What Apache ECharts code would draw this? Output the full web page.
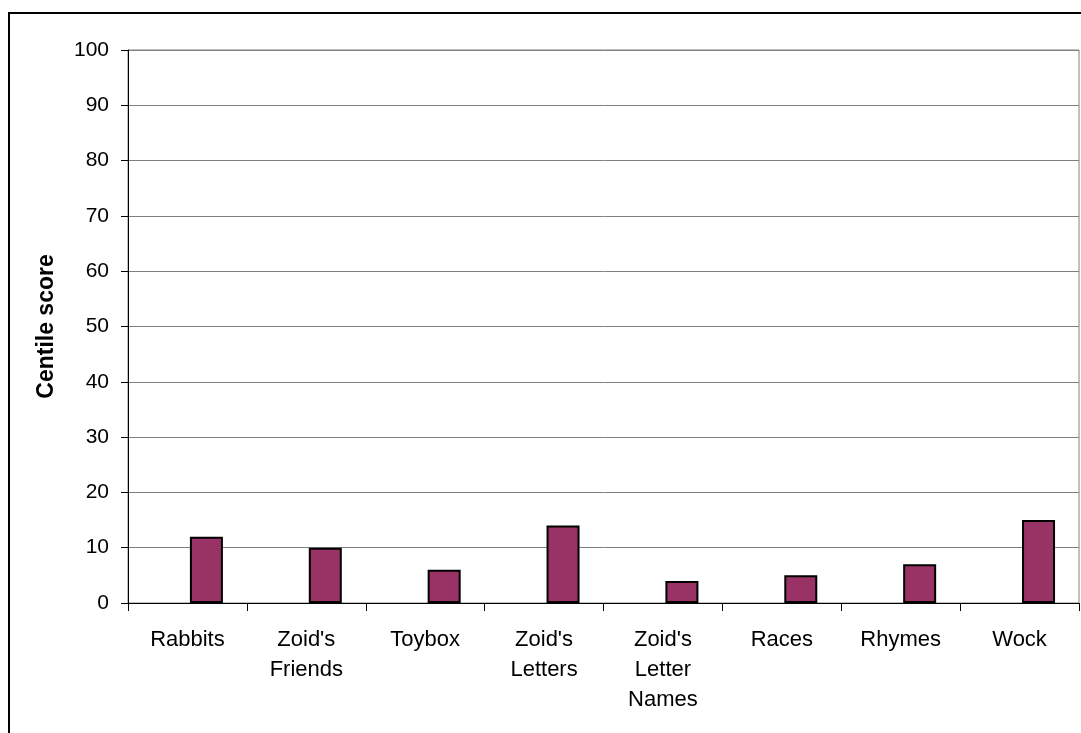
<!DOCTYPE html>
<html>
<head>
<meta charset="utf-8">
<script src="https://cdn.jsdelivr.net/npm/echarts@6/dist/echarts.min.js"></script>
<style>
html,body{margin:0;padding:0;background:#fff;}
#chart{width:1081px;height:733px;}
</style>
</head>
<body>
<div id="chart"></div>
<script>
const categories = ["Rabbits", "Zoid's Friends", "Toybox", "Zoid's Letters", "Zoid's Letter Names", "Races", "Rhymes", "Wock"];
const centileScores = [12, 10, 6, 14, 4, 5, 7, 15];
const placeholder = [null, null, null, null, null, null, null, null];
const yTicks = { min: 0, max: 100, interval: 10 };
const yAxisTitle = "Centile score";

const FONT = '"Liberation Sans", Arial, sans-serif';
const chart = echarts.init(document.getElementById('chart'), null, { renderer: 'canvas' });
chart.setOption({
  animation: false,
  backgroundColor: '#fff',
  graphic: [{
    type: 'rect',
    shape: { x: 9, y: 13, width: 1100, height: 760 },
    style: { fill: 'none', stroke: '#000', lineWidth: 2 },
    silent: true
  }],
  grid: {
    left: 128, top: 50, right: 2, bottom: 130,
    show: true, borderColor: '#808080', borderWidth: 1, backgroundColor: 'transparent'
  },
  xAxis: {
    type: 'category',
    data: categories,
    axisLine: { lineStyle: { color: '#000', width: 1 } },
    axisTick: { show: true, length: 8, lineStyle: { color: '#000' } },
    axisLabel: {
      interval: 0,
      margin: 22,
      color: '#000',
      fontFamily: FONT,
      fontSize: 22,
      lineHeight: 30,
      formatter: v => v.split(' ').join('\n')
    },
    splitLine: { show: false }
  },
  yAxis: {
    type: 'value',
    min: yTicks.min, max: yTicks.max, interval: yTicks.interval,
    name: yAxisTitle,
    nameLocation: 'middle',
    nameGap: 70,
    nameRotate: 90,
    nameTextStyle: { fontFamily: FONT, fontSize: 23, fontWeight: 'bold', color: '#000' },
    axisLine: { show: true, lineStyle: { color: '#000', width: 1 } },
    axisTick: { show: true, length: 7, lineStyle: { color: '#000' } },
    axisLabel: { margin: 19, color: '#000', fontFamily: FONT, fontSize: 21 },
    splitLine: { show: true, lineStyle: { color: '#808080', width: 1 } }
  },
  series: [
    {
      type: 'bar',
      data: placeholder,
      barWidth: 33,
      barGap: '15%',
      silent: true
    },
    {
      type: 'bar',
      data: centileScores,
      barWidth: 33,
      barGap: '15%',
      itemStyle: { color: '#993366', borderColor: '#000', borderWidth: 2 }
    }
  ]
});
</script>
</body>
</html>
